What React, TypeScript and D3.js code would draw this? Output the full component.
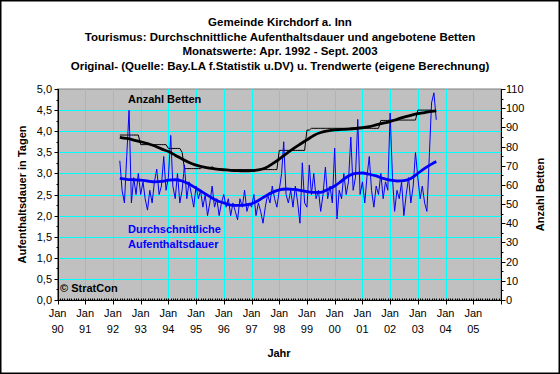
import * as d3 from "d3";
import React from "react";

const W = 560;
const H = 374;

const titleLines = [
  "Gemeinde Kirchdorf a. Inn",
  "Tourismus: Durchschnittliche Aufenthaltsdauer und angebotene Betten",
  "Monatswerte: Apr. 1992 - Sept. 2003",
  "Original- (Quelle: Bay.LA f.Statistik u.DV) u. Trendwerte (eigene Berechnung)",
];

const stayTicks = [0, 0.5, 1, 1.5, 2, 2.5, 3, 3.5, 4, 4.5, 5];
const bedTicks = [0, 10, 20, 30, 40, 50, 60, 70, 80, 90, 100, 110];
const yearLabels = ["90", "91", "92", "93", "94", "95", "96", "97", "98", "99", "00", "01", "02", "03", "04", "05"];

// monthly values Apr 1992 .. Sep 2003
const stayMonthly = [
  3.3, 2.6, 2.3, 3.4, 4.5, 2.3, 2.9, 2.5, 3.0,
  2.5, 2.8, 2.4, 2.13, 2.6, 2.3, 2.8, 3.1, 2.5, 2.7, 3.4, 2.6,
  2.9, 3.9, 2.7, 2.4, 3.0, 2.3, 2.6, 3.2, 2.4, 2.8, 2.5, 2.2,
  2.7, 2.4, 2.6, 2.2, 2.5, 2.0, 2.3, 2.7, 2.2, 2.4, 2.0, 2.3,
  2.5, 2.2, 2.4, 2.0, 2.3, 2.1, 1.9, 2.4, 2.2, 2.6, 2.1, 2.3,
  2.2, 2.5, 2.0, 2.3, 2.1, 1.82, 2.2, 2.5, 2.3, 2.7, 2.4, 2.2,
  2.6, 3.0, 3.75, 2.5, 2.3, 2.6, 2.2, 2.7, 2.3, 1.82, 3.25, 2.3,
  2.2, 3.2, 2.5, 3.0, 2.4, 2.6, 2.1, 2.5, 3.15, 2.4, 2.7, 2.3,
  3.6, 1.92, 2.6, 2.4, 3.0, 2.5, 2.8, 3.86, 2.6, 2.9, 4.28, 2.5,
  2.8, 2.3, 2.9, 3.4, 2.6, 2.2, 2.7, 2.5, 3.0, 2.4, 2.8, 2.6,
  4.43, 2.9, 2.1, 2.6, 2.4, 2.8, 2.0, 2.5, 2.9, 2.3, 2.7, 3.5,
  2.9, 2.4, 2.7, 2.3, 2.1, 3.4, 4.67, 4.91, 4.27,
];

const bedsMonthly = [
  86, 86, 86, 86, 86, 86, 86, 86, 86,
  81, 81, 81, 81, 81, 81, 81, 81, 81, 81, 81, 81,
  79, 79, 79, 79, 79, 79, 77, 68.5, 68.5, 68.5, 68.5, 68.5,
  68.5, 68.5, 68.5, 69.5, 69.5, 68.5, 68.5, 69.5, 68.5, 68.5, 68.5, 68.5,
  68, 68, 68, 68, 68, 68, 68, 68, 68, 68, 68, 68,
  68, 68, 68, 68, 68, 68, 68, 68, 68, 68, 68, 68,
  78, 78, 78, 78, 78, 78, 78, 78, 78, 78, 78, 78,
  88.6, 88.6, 89.5, 89.5, 89.5, 89.5, 89.5, 89.5, 89.5, 89.5, 89.5, 89.5,
  89.5, 89.5, 89.5, 89.5, 89.5, 89.5, 89.5, 89.5, 89.5, 89.5, 89.5, 89.5,
  89.5, 89.5, 89.5, 89.5, 89.5, 89.5, 89.5, 89.5, 93.6, 93.6, 93.6, 93.6,
  93.8, 93.8, 93.8, 93.8, 93.8, 93.8, 93.8, 93.8, 93.8, 93.8, 93.8, 93.8,
  99, 99, 99, 99, 99, 99, 99, 98.5, 98.5,
];

const trendDates = [
  "1992-04", "1992-07", "1992-10", "1993-01", "1993-04", "1993-07", "1993-10",
  "1994-01", "1994-04", "1994-07", "1994-10", "1995-01", "1995-04", "1995-07", "1995-10",
  "1996-01", "1996-04", "1996-07", "1996-10", "1997-01", "1997-04", "1997-07", "1997-10",
  "1998-01", "1998-04", "1998-07", "1998-10", "1999-01", "1999-04", "1999-07", "1999-10",
  "2000-01", "2000-04", "2000-07", "2000-10", "2001-01", "2001-04", "2001-07", "2001-10",
  "2002-01", "2002-04", "2002-07", "2002-10", "2003-01", "2003-04", "2003-07", "2003-09",
];

const bedsTrend = [
  84.8, 84.2, 83.4, 82.5, 81.6, 80.4, 78.8,
  77.4, 75.5, 73.5, 71.7, 70.3, 69.4, 68.7, 68.2,
  67.9, 67.6, 67.4, 67.3, 67.4, 67.8, 68.8, 71.0,
  73.5, 76.2, 78.8, 81.2, 83.5, 85.8, 87.3, 88.2,
  88.7, 88.9, 89.1, 89.4, 89.8, 90.4, 91.3, 92.2,
  93.0, 94.2, 95.3, 96.3, 97.1, 97.7, 98.3, 98.6,
];

const stayTrend = [
  2.88, 2.86, 2.85, 2.84, 2.82, 2.8, 2.81,
  2.84, 2.85, 2.82, 2.75, 2.65, 2.55, 2.45, 2.36,
  2.3, 2.25, 2.24, 2.25, 2.28, 2.36, 2.46, 2.55,
  2.61, 2.63, 2.62, 2.6, 2.57, 2.55, 2.55, 2.62,
  2.7, 2.82, 2.94, 3.0, 3.01, 2.98, 2.94, 2.88,
  2.84, 2.82, 2.83, 2.88, 3.0, 3.12, 3.22, 3.28,
];

const FONT = "'Liberation Sans', Arial, sans-serif";
const BLUE = "#0000ff";
const CYAN = "#00ffff";

export default function App() {
  const left = 57.5, right = 501, top = 89, bottom = 300;

  const x = d3.scaleTime().domain([new Date(1990, 0, 1), new Date(2006, 0, 1)]).range([left, right]);
  const yStay = d3.scaleLinear().domain([0, 5]).range([bottom, top]);
  const yBeds = d3.scaleLinear().domain([0, 110]).range([bottom, top]);

  const months = d3.timeMonth.range(new Date(1992, 3, 1), new Date(2003, 9, 1));
  const parse = d3.timeParse("%Y-%m");
  const tDates = trendDates.map((s) => parse(s) as Date);

  const years = d3.timeYear.range(new Date(1990, 0, 1), new Date(2006, 0, 2));
  const minorMonths = d3.timeMonth.range(new Date(1990, 0, 1), new Date(2006, 0, 1));
  const fmt = (v: number) => d3.format(".1f")(v).replace(".", ",");

  const lineStay = d3.line<number>().x((_, i) => x(months[i])).y((d) => yStay(d));
  const lineBeds = d3.line<number>().x((_, i) => x(months[i])).y((d) => yBeds(d));
  const trendStay = d3.line<number>().x((_, i) => x(tDates[i])).y((d) => yStay(d)).curve(d3.curveMonotoneX);
  const trendBeds = d3.line<number>().x((_, i) => x(tDates[i])).y((d) => yBeds(d)).curve(d3.curveMonotoneX);

  const snap = (v: number) => Math.round(v) + 0.5;

  return (
    <svg width={W} height={H} style={{ position: "absolute", left: 0, top: 0, background: "#fff" }} fontFamily={FONT}>
      <rect x={0.75} y={0.75} width={W - 1.5} height={H - 1.5} fill="#fff" stroke="#000" strokeWidth={1.5} />

      {titleLines.map((t, i) => (
        <text key={i} x={280} y={26 + i * 14.6} textAnchor="middle" fontSize={11.5} fontWeight="bold">{t}</text>
      ))}

      <rect x={left} y={top} width={right - left} height={bottom - top} fill="#c0c0c0" stroke="#808080" strokeWidth={1} />

      {/* grid */}
      {stayTicks.slice(1, -1).map((v) => (
        <line key={"h" + v} x1={left} x2={right} y1={snap(yStay(v))} y2={snap(yStay(v))} stroke={CYAN} strokeWidth={1} />
      ))}
      {years.slice(1, -1).map((d, i) => (
        <line key={"v" + i} x1={snap(x(d))} x2={snap(x(d))} y1={top} y2={bottom} stroke={CYAN} strokeWidth={1} />
      ))}

      {/* series */}
      <path d={lineBeds(bedsMonthly) || ""} fill="none" stroke="#000" strokeWidth={1} />
      <path d={lineStay(stayMonthly) || ""} fill="none" stroke={BLUE} strokeWidth={1} />
      <path d={trendBeds(bedsTrend) || ""} fill="none" stroke="#000" strokeWidth={2.8} />
      <path d={trendStay(stayTrend) || ""} fill="none" stroke={BLUE} strokeWidth={2.8} />

      {/* axes */}
      <line x1={snap(left)} x2={snap(left)} y1={top} y2={bottom + 1} stroke="#000" />
      <line x1={snap(right)} x2={snap(right)} y1={top} y2={bottom + 1} stroke="#000" />
      <line x1={left} x2={right + 1} y1={snap(bottom)} y2={snap(bottom)} stroke="#000" />

      {stayTicks.map((v) => (
        <g key={"ls" + v}>
          <line x1={snap(left) - 4} x2={snap(left)} y1={snap(yStay(v))} y2={snap(yStay(v))} stroke="#000" />
          <text x={52} y={yStay(v) + 4} textAnchor="end" fontSize={11}>{fmt(v)}</text>
        </g>
      ))}
      {stayTicks.slice(0, -1).map((v) => (
        <line key={"lm" + v} x1={snap(left) - 2} x2={snap(left)} y1={snap(yStay(v + 0.25))} y2={snap(yStay(v + 0.25))} stroke="#000" />
      ))}

      {bedTicks.map((v) => (
        <g key={"rs" + v}>
          <line x1={snap(right)} x2={snap(right) + 4} y1={snap(yBeds(v))} y2={snap(yBeds(v))} stroke="#000" />
          <text x={506} y={yBeds(v) + 4} textAnchor="start" fontSize={11}>{v}</text>
        </g>
      ))}
      {bedTicks.slice(0, -1).map((v) => (
        <line key={"rm" + v} x1={snap(right)} x2={snap(right) + 2} y1={snap(yBeds(v + 5))} y2={snap(yBeds(v + 5))} stroke="#000" />
      ))}

      {minorMonths.map((d, i) => (
        <line key={"mm" + i} x1={snap(x(d))} x2={snap(x(d))} y1={snap(bottom) - 2} y2={snap(bottom)} stroke="#000" />
      ))}
      {years.map((d, i) => (
        <line key={"yt" + i} x1={snap(x(d))} x2={snap(x(d))} y1={snap(bottom)} y2={snap(bottom) + 4} stroke="#000" />
      ))}
      {yearLabels.map((lab, i) => (
        <g key={"yl" + lab}>
          <text x={x(years[i])} y={317} textAnchor="middle" fontSize={11}>Jan</text>
          <text x={x(years[i])} y={333} textAnchor="middle" fontSize={11}>{lab}</text>
        </g>
      ))}

      {/* labels */}
      <text x={128} y={103} fontSize={11} fontWeight="bold">Anzahl Betten</text>
      <text x={128} y={233} fontSize={11} fontWeight="bold" fill={BLUE}>Durchschnittliche</text>
      <text x={128} y={247.5} fontSize={11} fontWeight="bold" fill={BLUE}>Aufenthaltsdauer</text>
      <text x={60} y={292} fontSize={11} fontWeight="bold">© StratCon</text>

      <text x={279} y={357} textAnchor="middle" fontSize={11} fontWeight="bold">Jahr</text>
      <text transform={`translate(26,${(top + bottom) / 2}) rotate(-90)`} textAnchor="middle" fontSize={11} fontWeight="bold">Aufenthaltsdauer in Tagen</text>
      <text transform={`translate(544,${(top + bottom) / 2}) rotate(-90)`} textAnchor="middle" fontSize={11} fontWeight="bold">Anzahl Betten</text>
    </svg>
  );
}
